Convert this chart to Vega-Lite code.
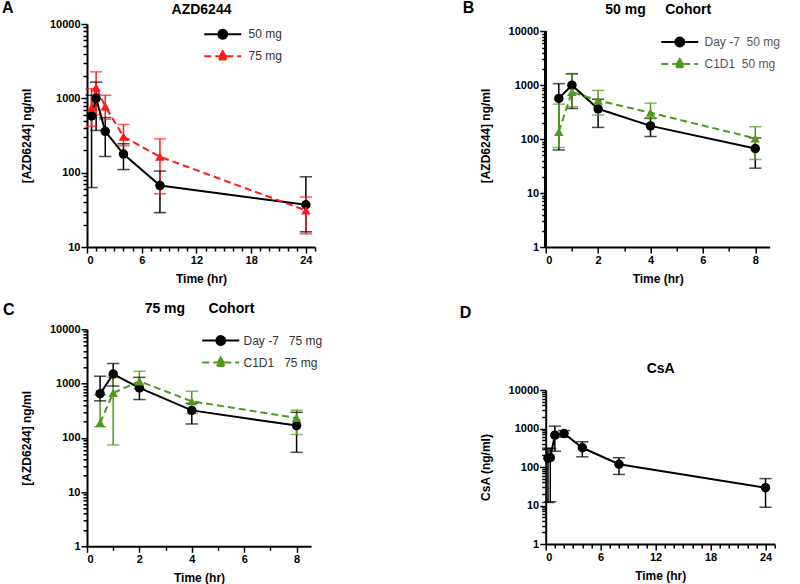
{
  "$schema": "https://vega.github.io/schema/vega-lite/v6.json",
  "padding": {"left": 2, "top": 0, "right": 0, "bottom": 0},
  "background": "white",
  "datasets": {
    "A": [
      {"series": "50 mg", "t": 0.5, "v": 580, "lo": 63, "hi": 1100},
      {"series": "50 mg", "t": 1, "v": 1000, "lo": 370, "hi": 1650},
      {"series": "50 mg", "t": 2, "v": 360, "lo": 165, "hi": 550},
      {"series": "50 mg", "t": 4, "v": 178, "lo": 110, "hi": 245},
      {"series": "50 mg", "t": 8, "v": 67, "lo": 29, "hi": 105},
      {"series": "50 mg", "t": 24, "v": 37, "lo": 16, "hi": 88},
      {"series": "75 mg", "t": 0.5, "v": 750, "lo": 420, "hi": 1350},
      {"series": "75 mg", "t": 1, "v": 1400, "lo": 600, "hi": 2270},
      {"series": "75 mg", "t": 2, "v": 780, "lo": 520, "hi": 1100},
      {"series": "75 mg", "t": 4, "v": 305, "lo": 230, "hi": 445},
      {"series": "75 mg", "t": 8, "v": 164, "lo": 52, "hi": 285},
      {"series": "75 mg", "t": 24, "v": 31, "lo": 15, "hi": 47}
    ],
    "B": [
      {"series": "Day -7  50 mg", "t": 0.5, "v": 570, "lo": 63, "hi": 1070},
      {"series": "Day -7  50 mg", "t": 1, "v": 1000, "lo": 370, "hi": 1640},
      {"series": "Day -7  50 mg", "t": 2, "v": 365, "lo": 165, "hi": 550},
      {"series": "Day -7  50 mg", "t": 4, "v": 176, "lo": 112, "hi": 245},
      {"series": "Day -7  50 mg", "t": 8, "v": 67, "lo": 29, "hi": 105},
      {"series": "C1D1  50 mg", "t": 0.5, "v": 137, "lo": 70, "hi": 445},
      {"series": "C1D1  50 mg", "t": 1, "v": 750, "lo": 400, "hi": 1600},
      {"series": "C1D1  50 mg", "t": 2, "v": 520, "lo": 280, "hi": 800},
      {"series": "C1D1  50 mg", "t": 4, "v": 310, "lo": 240, "hi": 465},
      {"series": "C1D1  50 mg", "t": 8, "v": 103, "lo": 42, "hi": 170}
    ],
    "C": [
      {"series": "Day -7   75 mg", "t": 0.5, "v": 650, "lo": 480, "hi": 1365},
      {"series": "Day -7   75 mg", "t": 1, "v": 1500, "lo": 900, "hi": 2340},
      {"series": "Day -7   75 mg", "t": 2, "v": 830, "lo": 507, "hi": 1300},
      {"series": "Day -7   75 mg", "t": 4, "v": 320, "lo": 180, "hi": 430},
      {"series": "Day -7   75 mg", "t": 8, "v": 168, "lo": 54, "hi": 295},
      {"series": "C1D1   75 mg", "t": 0.5, "v": 188, "lo": 160, "hi": 620},
      {"series": "C1D1   75 mg", "t": 1, "v": 673, "lo": 74, "hi": 1300},
      {"series": "C1D1   75 mg", "t": 2, "v": 1100, "lo": 800, "hi": 1690},
      {"series": "C1D1   75 mg", "t": 4, "v": 472, "lo": 280, "hi": 720},
      {"series": "C1D1   75 mg", "t": 8, "v": 232, "lo": 115, "hi": 323}
    ],
    "D": [
      {"series": "CsA", "t": 0.25, "v": 170, "lo": 12, "hi": 310},
      {"series": "CsA", "t": 0.5, "v": 175, "lo": 12.5, "hi": 300},
      {"series": "CsA", "t": 1, "v": 670, "lo": 257, "hi": 1150},
      {"series": "CsA", "t": 2, "v": 740, "lo": 600, "hi": 880},
      {"series": "CsA", "t": 4, "v": 316, "lo": 184, "hi": 452},
      {"series": "CsA", "t": 8, "v": 118, "lo": 64, "hi": 174},
      {"series": "CsA", "t": 24, "v": 29, "lo": 9, "hi": 50}
    ]
  },
  "bounds": "flush",
  "spacing": 458.7,
  "resolve": {"scale": {"stroke": "independent"}, "legend": {"stroke": "independent"}},
  "hconcat": [
    {
      "bounds": "flush",
      "spacing": 82.3,
      "resolve": {"scale": {"stroke": "independent"}, "legend": {"stroke": "independent"}},
      "vconcat": [
        {
          "width": 228, "height": 223,
          "title": {"text": "A", "orient": "top", "anchor": "start", "frame": "group", "align": "left", "baseline": "top", "dx": -85, "offset": -14, "fontSize": 16, "fontWeight": "bold"},
          "data": {"name": "A"},
          "resolve": {"axis": {"x": "independent"}},
          "layer": [
            {"transform": [{"filter": "datum.series === '50 mg'"}], "mark": {"type": "rule", "strokeWidth": 1.5, "color": "#000000"},
              "encoding": {
                "x": {"field": "t", "type": "quantitative", "scale": {"domain": [0, 25], "nice": false},
                  "axis": {"title": "Time (hr)", "values": [0,1,2,3,4,5,6,7,8,9,10,11,12,13,14,15,16,17,18,19,20,21,22,23,24,25], "labelExpr": "datum.value % 6 == 0 && datum.value <= 24 ? datum.label : ''", "tickSize": {"condition": {"test": "datum.value % 6 == 0", "value": 6}, "value": 4}, "labelPadding": 1, "titlePadding": 8}},
                "y": {"field": "lo", "type": "quantitative", "scale": {"type": "log", "domain": [10, 10000], "nice": false},
                  "axis": {"title": "[AZD6244] ng/ml", "format": "d", "values": [10,20,30,40,50,60,70,80,90,100,200,300,400,500,600,700,800,900,1000,2000,3000,4000,5000,6000,7000,8000,9000,10000], "labelExpr": "indexof([1,10,100,1000,10000], datum.value) >= 0 ? datum.label : ''", "tickSize": {"condition": {"test": "indexof([1,10,100,1000,10000], datum.value) >= 0", "value": 6}, "value": 4}, "labelPadding": 1, "titlePadding": 16}},
                "y2": {"field": "hi"}}},
            {"transform": [{"filter": "datum.series === '75 mg'"}], "mark": {"type": "rule", "strokeWidth": 1.5, "color": "#ff1a1a"},
              "encoding": {"x": {"field": "t", "type": "quantitative", "axis": null}, "y": {"field": "lo", "type": "quantitative"}, "y2": {"field": "hi"}}},
            {"transform": [{"filter": "datum.series === '50 mg'"}], "mark": {"type": "point", "shape": "stroke", "size": 150, "strokeWidth": 1.5, "color": "#000000"},
              "encoding": {"x": {"field": "t", "type": "quantitative", "axis": null}, "y": {"field": "lo", "type": "quantitative"}}},
            {"transform": [{"filter": "datum.series === '50 mg'"}], "mark": {"type": "point", "shape": "stroke", "size": 150, "strokeWidth": 1.5, "color": "#000000"},
              "encoding": {"x": {"field": "t", "type": "quantitative", "axis": null}, "y": {"field": "hi", "type": "quantitative"}}},
            {"transform": [{"filter": "datum.series === '75 mg'"}], "mark": {"type": "point", "shape": "stroke", "size": 150, "strokeWidth": 1.5, "color": "#ff1a1a"},
              "encoding": {"x": {"field": "t", "type": "quantitative", "axis": null}, "y": {"field": "lo", "type": "quantitative"}}},
            {"transform": [{"filter": "datum.series === '75 mg'"}], "mark": {"type": "point", "shape": "stroke", "size": 150, "strokeWidth": 1.5, "color": "#ff1a1a"},
              "encoding": {"x": {"field": "t", "type": "quantitative", "axis": null}, "y": {"field": "hi", "type": "quantitative"}}},
            {"transform": [{"filter": "datum.series === '50 mg'"}], "mark": {"type": "line", "strokeWidth": 2},
              "encoding": {
                "x": {"field": "t", "type": "quantitative", "axis": {"orient": "top", "title": "AZD6244", "domain": false, "ticks": false, "labels": false, "titleFontSize": 14, "titlePadding": 8}},
                "y": {"field": "v", "type": "quantitative"},
                "stroke": {"field": "series", "type": "nominal", "scale": {"domain": ["50 mg", "75 mg"], "range": ["#000000", "#ff1a1a"]},
                  "legend": {"orient": "none", "legendX": 125.25, "legendY": -0.25, "title": null, "symbolType": "stroke", "symbolSize": 342, "symbolStrokeWidth": 2, "labelFontSize": 12, "labelColor": "#333", "labelFontWeight": "normal", "rowPadding": 3, "padding": 0, "labelOffset": 15.25,
                    "encode": {"symbols": {"update": {
                      "shape": {"signal": "datum.value === '50 mg' ? 'M-2,0L2,0M0.486,0L0.42,0.243L0.243,0.42L0,0.486L-0.243,0.42L-0.42,0.243L-0.486,0L-0.42,-0.243L-0.243,-0.42L0,-0.486L0.243,-0.42L0.42,-0.243Z' : 'M-2,0L2,0M0,-0.54L0.52,0.36L-0.52,0.36Z'"},
                      "fill": {"signal": "datum.value === '50 mg' ? '#000000' : '#ff1a1a'"},
                      "strokeDash": {"signal": "datum.value === '50 mg' ? [1, 0] : [7, 4]"}}}}}}}},
            {"transform": [{"filter": "datum.series === '75 mg'"}], "mark": {"type": "line", "strokeWidth": 2, "strokeDash": [7, 4]},
              "encoding": {
                "x": {"field": "t", "type": "quantitative", "axis": null},
                "y": {"field": "v", "type": "quantitative"},
                "stroke": {"field": "series", "type": "nominal"}}},
            {"transform": [{"filter": "datum.series === '50 mg'"}], "mark": {"type": "point", "filled": true, "size": 90, "opacity": 1, "color": "#000000", "shape": "circle"},
              "encoding": {"x": {"field": "t", "type": "quantitative", "axis": null}, "y": {"field": "v", "type": "quantitative"}}},
            {"transform": [{"filter": "datum.series === '75 mg'"}], "mark": {"type": "point", "filled": true, "size": 90, "opacity": 1, "color": "#ff1a1a", "shape": "triangle-up"},
              "encoding": {"x": {"field": "t", "type": "quantitative", "axis": null}, "y": {"field": "v", "type": "quantitative"}}}
          ]
        },
        {
          "width": 224, "height": 217,
          "title": {"text": "C", "orient": "top", "anchor": "start", "frame": "group", "align": "left", "baseline": "top", "dx": -84, "offset": -17, "fontSize": 16, "fontWeight": "bold"},
          "data": {"name": "C"},
          "resolve": {"axis": {"x": "independent"}},
          "layer": [
            {"transform": [{"filter": "indexof(datum.series, 'Day') >= 0"}], "mark": {"type": "rule", "strokeWidth": 1.5, "color": "#000000"},
              "encoding": {
                "x": {"field": "t", "type": "quantitative", "scale": {"domain": [0, 8.55], "nice": false},
                  "axis": {"title": "Time (hr)", "values": [0,1,2,3,4,5,6,7,8], "labelExpr": "datum.value % 2 == 0 ? datum.label : ''", "tickSize": {"condition": {"test": "datum.value % 2 == 0", "value": 6}, "value": 4}, "labelPadding": 1, "titlePadding": 8}},
                "y": {"field": "lo", "type": "quantitative", "scale": {"type": "log", "domain": [1, 10000], "nice": false},
                  "axis": {"title": "[AZD6244] ng/ml", "format": "d", "values": [1,2,3,4,5,6,7,8,9,10,20,30,40,50,60,70,80,90,100,200,300,400,500,600,700,800,900,1000,2000,3000,4000,5000,6000,7000,8000,9000,10000], "labelExpr": "indexof([1,10,100,1000,10000], datum.value) >= 0 ? datum.label : ''", "tickSize": {"condition": {"test": "indexof([1,10,100,1000,10000], datum.value) >= 0", "value": 6}, "value": 4}, "labelPadding": 1, "titlePadding": 16}},
                "y2": {"field": "hi"}}},
            {"transform": [{"filter": "indexof(datum.series, 'C1D1') >= 0"}], "mark": {"type": "rule", "strokeWidth": 1.5, "color": "#4f9a1c"},
              "encoding": {"x": {"field": "t", "type": "quantitative", "axis": null}, "y": {"field": "lo", "type": "quantitative"}, "y2": {"field": "hi"}}},
            {"transform": [{"filter": "indexof(datum.series, 'Day') >= 0"}], "mark": {"type": "point", "shape": "stroke", "size": 150, "strokeWidth": 1.5, "color": "#000000"},
              "encoding": {"x": {"field": "t", "type": "quantitative", "axis": null}, "y": {"field": "lo", "type": "quantitative"}}},
            {"transform": [{"filter": "indexof(datum.series, 'Day') >= 0"}], "mark": {"type": "point", "shape": "stroke", "size": 150, "strokeWidth": 1.5, "color": "#000000"},
              "encoding": {"x": {"field": "t", "type": "quantitative", "axis": null}, "y": {"field": "hi", "type": "quantitative"}}},
            {"transform": [{"filter": "indexof(datum.series, 'C1D1') >= 0"}], "mark": {"type": "point", "shape": "stroke", "size": 150, "strokeWidth": 1.5, "color": "#4f9a1c"},
              "encoding": {"x": {"field": "t", "type": "quantitative", "axis": null}, "y": {"field": "lo", "type": "quantitative"}}},
            {"transform": [{"filter": "indexof(datum.series, 'C1D1') >= 0"}], "mark": {"type": "point", "shape": "stroke", "size": 150, "strokeWidth": 1.5, "color": "#4f9a1c"},
              "encoding": {"x": {"field": "t", "type": "quantitative", "axis": null}, "y": {"field": "hi", "type": "quantitative"}}},
            {"transform": [{"filter": "indexof(datum.series, 'Day') >= 0"}], "mark": {"type": "line", "strokeWidth": 2},
              "encoding": {
                "x": {"field": "t", "type": "quantitative", "axis": {"orient": "top", "title": "75 mg \u00a0\u00a0\u00a0\u00a0\u00a0Cohort", "domain": false, "ticks": false, "labels": false, "titleFontSize": 14, "titlePadding": 14}},
                "y": {"field": "v", "type": "quantitative"},
                "stroke": {"field": "series", "type": "nominal", "scale": {"domain": ["Day -7   75 mg", "C1D1   75 mg"], "range": ["#000000", "#4f9a1c"]},
                  "legend": {"orient": "none", "legendX": 123.25, "legendY": 0.75, "title": null, "symbolType": "stroke", "symbolSize": 342, "symbolStrokeWidth": 2, "labelFontSize": 12, "labelColor": "#333", "labelFontWeight": "normal", "rowPadding": 3, "padding": 0, "labelOffset": 12.25,
                    "labelExpr": "replace(datum.label, '   ', '\u00a0\u00a0\u00a0')",
                    "encode": {"symbols": {"update": {
                      "shape": {"signal": "indexof(datum.value, 'Day') >= 0 ? 'M-2,0L2,0M0.486,0L0.42,0.243L0.243,0.42L0,0.486L-0.243,0.42L-0.42,0.243L-0.486,0L-0.42,-0.243L-0.243,-0.42L0,-0.486L0.243,-0.42L0.42,-0.243Z' : 'M-2,0L2,0M0,-0.54L0.52,0.36L-0.52,0.36Z'"},
                      "fill": {"signal": "indexof(datum.value, 'Day') >= 0 ? '#000000' : '#4f9a1c'"},
                      "strokeDash": {"signal": "indexof(datum.value, 'Day') >= 0 ? [1, 0] : [7, 4]"}}}}}}}},
            {"transform": [{"filter": "indexof(datum.series, 'C1D1') >= 0"}], "mark": {"type": "line", "strokeWidth": 2, "strokeDash": [7, 4]},
              "encoding": {"x": {"field": "t", "type": "quantitative", "axis": null}, "y": {"field": "v", "type": "quantitative"}, "stroke": {"field": "series", "type": "nominal"}}},
            {"transform": [{"filter": "indexof(datum.series, 'Day') >= 0"}], "mark": {"type": "point", "filled": true, "size": 90, "opacity": 1, "color": "#000000", "shape": "circle"},
              "encoding": {"x": {"field": "t", "type": "quantitative", "axis": null}, "y": {"field": "v", "type": "quantitative"}}},
            {"transform": [{"filter": "indexof(datum.series, 'C1D1') >= 0"}], "mark": {"type": "point", "filled": true, "size": 90, "opacity": 1, "color": "#4f9a1c", "shape": "triangle-up"},
              "encoding": {"x": {"field": "t", "type": "quantitative", "axis": null}, "y": {"field": "v", "type": "quantitative"}}}
          ]
        }
      ]
    },
    {
      "bounds": "flush",
      "spacing": 143,
      "resolve": {"scale": {"stroke": "independent"}, "legend": {"stroke": "independent"}},
      "vconcat": [
        {
          "width": 224, "height": 223,
          "title": {"text": "B", "orient": "top", "anchor": "start", "frame": "group", "align": "left", "baseline": "top", "dx": -83, "offset": -14, "fontSize": 16, "fontWeight": "bold"},
          "data": {"name": "B"},
          "resolve": {"axis": {"x": "independent"}},
          "layer": [
            {"transform": [{"filter": "indexof(datum.series, 'Day') >= 0"}], "mark": {"type": "rule", "strokeWidth": 1.5, "color": "#000000"},
              "encoding": {
                "x": {"field": "t", "type": "quantitative", "scale": {"domain": [0, 8.55], "nice": false},
                  "axis": {"title": "Time (hr)", "values": [0,1,2,3,4,5,6,7,8], "labelExpr": "datum.value % 2 == 0 ? datum.label : ''", "tickSize": {"condition": {"test": "datum.value % 2 == 0", "value": 6}, "value": 4}, "labelPadding": 1, "titlePadding": 8}},
                "y": {"field": "lo", "type": "quantitative", "scale": {"type": "log", "domain": [1, 13650], "nice": false},
                  "axis": {"title": "[AZD6244] ng/ml", "format": "d", "domain": false, "values": [1,2,3,4,5,6,7,8,9,10,20,30,40,50,60,70,80,90,100,200,300,400,500,600,700,800,900,1000,2000,3000,4000,5000,6000,7000,8000,9000,10000], "labelExpr": "indexof([1,10,100,1000,10000], datum.value) >= 0 ? datum.label : ''", "tickSize": {"condition": {"test": "indexof([1,10,100,1000,10000], datum.value) >= 0", "value": 6}, "value": 4}, "labelPadding": 1, "titlePadding": 16}},
                "y2": {"field": "hi"}}},
            {"mark": {"type": "rule", "strokeWidth": 2, "color": "#000000"},
              "encoding": {"x": {"datum": 0, "type": "quantitative", "axis": null}, "y": {"datum": 1, "type": "quantitative"}, "y2": {"datum": 10000}}},
            {"transform": [{"filter": "indexof(datum.series, 'C1D1') >= 0"}], "mark": {"type": "rule", "strokeWidth": 1.5, "color": "#4f9a1c"},
              "encoding": {"x": {"field": "t", "type": "quantitative", "axis": null}, "y": {"field": "lo", "type": "quantitative"}, "y2": {"field": "hi"}}},
            {"transform": [{"filter": "indexof(datum.series, 'Day') >= 0"}], "mark": {"type": "point", "shape": "stroke", "size": 150, "strokeWidth": 1.5, "color": "#000000"},
              "encoding": {"x": {"field": "t", "type": "quantitative", "axis": null}, "y": {"field": "lo", "type": "quantitative"}}},
            {"transform": [{"filter": "indexof(datum.series, 'Day') >= 0"}], "mark": {"type": "point", "shape": "stroke", "size": 150, "strokeWidth": 1.5, "color": "#000000"},
              "encoding": {"x": {"field": "t", "type": "quantitative", "axis": null}, "y": {"field": "hi", "type": "quantitative"}}},
            {"transform": [{"filter": "indexof(datum.series, 'C1D1') >= 0"}], "mark": {"type": "point", "shape": "stroke", "size": 150, "strokeWidth": 1.5, "color": "#4f9a1c"},
              "encoding": {"x": {"field": "t", "type": "quantitative", "axis": null}, "y": {"field": "lo", "type": "quantitative"}}},
            {"transform": [{"filter": "indexof(datum.series, 'C1D1') >= 0"}], "mark": {"type": "point", "shape": "stroke", "size": 150, "strokeWidth": 1.5, "color": "#4f9a1c"},
              "encoding": {"x": {"field": "t", "type": "quantitative", "axis": null}, "y": {"field": "hi", "type": "quantitative"}}},
            {"transform": [{"filter": "indexof(datum.series, 'Day') >= 0"}], "mark": {"type": "line", "strokeWidth": 2},
              "encoding": {
                "x": {"field": "t", "type": "quantitative", "axis": {"orient": "top", "title": "50 mg \u00a0\u00a0\u00a0\u00a0Cohort", "domain": false, "ticks": false, "labels": false, "titleFontSize": 14, "titlePadding": 8}},
                "y": {"field": "v", "type": "quantitative"},
                "stroke": {"field": "series", "type": "nominal", "scale": {"domain": ["Day -7  50 mg", "C1D1  50 mg"], "range": ["#000000", "#4f9a1c"]},
                  "legend": {"orient": "none", "legendX": 123.55, "legendY": 7.45, "title": null, "symbolType": "stroke", "symbolSize": 342, "symbolStrokeWidth": 2, "labelFontSize": 12, "labelColor": "#555", "labelFontWeight": "normal", "rowPadding": 3, "padding": 0, "labelOffset": 14.25,
                    "labelExpr": "replace(datum.label, '  ', '\u00a0\u00a0')",
                    "encode": {"symbols": {"update": {
                      "shape": {"signal": "indexof(datum.value, 'Day') >= 0 ? 'M-2,0L2,0M0.486,0L0.42,0.243L0.243,0.42L0,0.486L-0.243,0.42L-0.42,0.243L-0.486,0L-0.42,-0.243L-0.243,-0.42L0,-0.486L0.243,-0.42L0.42,-0.243Z' : 'M-2,0L2,0M0,-0.54L0.52,0.36L-0.52,0.36Z'"},
                      "fill": {"signal": "indexof(datum.value, 'Day') >= 0 ? '#000000' : '#4f9a1c'"},
                      "strokeDash": {"signal": "indexof(datum.value, 'Day') >= 0 ? [1, 0] : [7, 4]"}}}}}}}},
            {"transform": [{"filter": "indexof(datum.series, 'C1D1') >= 0"}], "mark": {"type": "line", "strokeWidth": 2, "strokeDash": [7, 4]},
              "encoding": {"x": {"field": "t", "type": "quantitative", "axis": null}, "y": {"field": "v", "type": "quantitative"}, "stroke": {"field": "series", "type": "nominal"}}},
            {"transform": [{"filter": "indexof(datum.series, 'Day') >= 0"}], "mark": {"type": "point", "filled": true, "size": 90, "opacity": 1, "color": "#000000", "shape": "circle"},
              "encoding": {"x": {"field": "t", "type": "quantitative", "axis": null}, "y": {"field": "v", "type": "quantitative"}}},
            {"transform": [{"filter": "indexof(datum.series, 'C1D1') >= 0"}], "mark": {"type": "point", "filled": true, "size": 90, "opacity": 1, "color": "#4f9a1c", "shape": "triangle-up"},
              "encoding": {"x": {"field": "t", "type": "quantitative", "axis": null}, "y": {"field": "v", "type": "quantitative"}}}
          ]
        },
        {
          "width": 229, "height": 154,
          "title": {"text": "D", "orient": "top", "anchor": "start", "frame": "group", "align": "left", "baseline": "top", "dx": -86, "offset": 40, "fontSize": 16, "fontWeight": "bold"},
          "data": {"name": "D"},
          "resolve": {"axis": {"x": "independent"}},
          "layer": [
            {"mark": {"type": "rule", "strokeWidth": 1.5, "color": "#000000"},
              "encoding": {
                "x": {"field": "t", "type": "quantitative", "scale": {"domain": [0, 25], "nice": false},
                  "axis": {"title": "Time (hr)", "values": [0,1,2,3,4,5,6,7,8,9,10,11,12,13,14,15,16,17,18,19,20,21,22,23,24,25], "labelExpr": "datum.value % 6 == 0 && datum.value <= 24 ? datum.label : ''", "tickSize": {"condition": {"test": "datum.value % 6 == 0", "value": 6}, "value": 4}, "labelPadding": 1, "titlePadding": 8}},
                "y": {"field": "lo", "type": "quantitative", "scale": {"type": "log", "domain": [1, 10000], "nice": false},
                  "axis": {"title": "CsA (ng/ml)", "format": "d", "values": [1,2,3,4,5,6,7,8,9,10,20,30,40,50,60,70,80,90,100,200,300,400,500,600,700,800,900,1000,2000,3000,4000,5000,6000,7000,8000,9000,10000], "labelExpr": "indexof([1,10,100,1000,10000], datum.value) >= 0 ? datum.label : ''", "tickSize": {"condition": {"test": "indexof([1,10,100,1000,10000], datum.value) >= 0", "value": 6}, "value": 4}, "labelPadding": 1, "titlePadding": 16}},
                "y2": {"field": "hi"}}},
            {"mark": {"type": "point", "shape": "stroke", "size": 150, "strokeWidth": 1.5, "color": "#000000"},
              "encoding": {"x": {"field": "t", "type": "quantitative", "axis": null}, "y": {"field": "lo", "type": "quantitative"}}},
            {"mark": {"type": "point", "shape": "stroke", "size": 150, "strokeWidth": 1.5, "color": "#000000"},
              "encoding": {"x": {"field": "t", "type": "quantitative", "axis": null}, "y": {"field": "hi", "type": "quantitative"}}},
            {"mark": {"type": "line", "strokeWidth": 2, "color": "#000000"},
              "encoding": {
                "x": {"field": "t", "type": "quantitative", "axis": {"orient": "top", "title": "CsA", "domain": false, "ticks": false, "labels": false, "titleFontSize": 14, "titlePadding": 15}},
                "y": {"field": "v", "type": "quantitative"}}},
            {"mark": {"type": "point", "filled": true, "size": 90, "opacity": 1, "color": "#000000", "shape": "circle"},
              "encoding": {"x": {"field": "t", "type": "quantitative", "axis": null}, "y": {"field": "v", "type": "quantitative"}}}
          ]
        }
      ]
    }
  ],
  "config": {
    "font": "Liberation Sans",
    "view": {"stroke": null},
    "axis": {"grid": false, "domainColor": "#000000", "domainWidth": 2, "tickColor": "#000000", "tickWidth": 1.5, "labelFont": "Liberation Sans", "labelFontWeight": "bold", "labelFontSize": 11, "labelColor": "#000000", "titleFont": "Liberation Sans", "titleFontSize": 12, "titleFontWeight": "bold", "titleColor": "#000000"},
    "legend": {"labelFont": "Liberation Sans"},
    "title": {"font": "Liberation Sans", "color": "#000000"}
  }
}
